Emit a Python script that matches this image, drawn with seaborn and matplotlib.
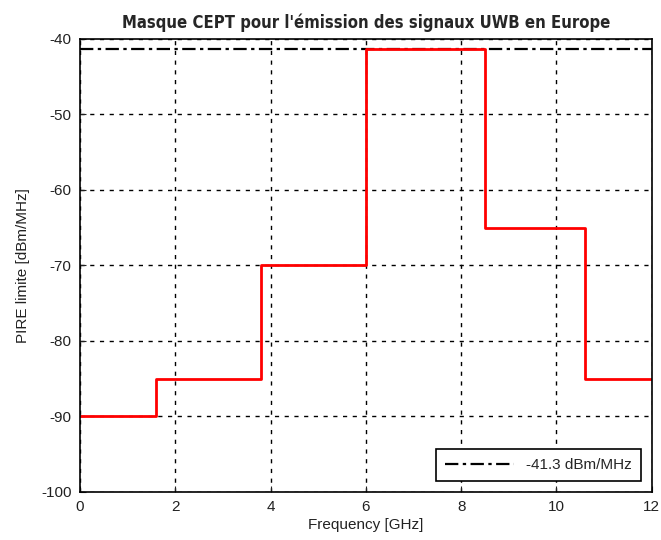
import numpy as np
import pandas as pd
import seaborn as sns
import matplotlib.pyplot as plt

# step edges of the CEPT UWB mask (GHz) and level per band (dBm/MHz)
freq_edges = [0, 1.6, 3.8, 6, 8.5, 10.6, 12]
levels = [-90, -85, -70, -41.3, -65, -85]
limit = -41.3

# build a step curve from the edges
fx, fy = [], []
for i, lv in enumerate(levels):
    fx += [freq_edges[i], freq_edges[i + 1]]
    fy += [lv, lv]
mask = pd.DataFrame({"freq": fx, "pire": fy})

sns.set_style("ticks")
plt.rcParams['font.family'] = ['Liberation Sans', 'DejaVu Sans']
plt.rcParams['axes.unicode_minus'] = False

fig = plt.figure(figsize=(6.61, 5.40), dpi=100)
ax = fig.add_axes([0.121, 0.089, 0.865, 0.839])

sns.lineplot(x=[0, 12], y=[limit, limit], ax=ax, color="black", lw=1.6,
             linestyle=(0, (6, 2, 1.5, 2)), label="-41.3 dBm/MHz")
sns.lineplot(data=mask, x="freq", y="pire", ax=ax, color="red", lw=2,
             sort=False, estimator=None)

ax.set_xlim(0, 12)
ax.set_ylim(-100, -40)
ax.set_xticks(range(0, 13, 2))
ax.set_yticks(range(-100, -39, 10))
ax.grid(True, color="black", linestyle=(0, (3, 4)), lw=1)
ax.tick_params(direction="in", length=4, labelsize=11, colors="#222222", pad=6)
for s in ax.spines.values():
    s.set_color("black")
    s.set_linewidth(1.2)

ax.set_xlabel("Frequency [GHz]", fontsize=11, color="#222222", labelpad=3)
ax.set_ylabel("PIRE limite [dBm/MHz]", fontsize=11, color="#222222", labelpad=8)
ax.set_title("Masque CEPT pour l'émission des signaux UWB en Europe",
             fontsize=12, fontweight="bold", fontstretch="condensed",
             family=['DejaVu Sans'], pad=8)

leg = ax.legend(loc="lower right", fancybox=False, framealpha=1,
                edgecolor="black", fontsize=11, handlelength=4.5,
                borderaxespad=0.7, borderpad=0.6)
leg.get_frame().set_linewidth(1.2)

fig.savefig("out.png", dpi=100)
